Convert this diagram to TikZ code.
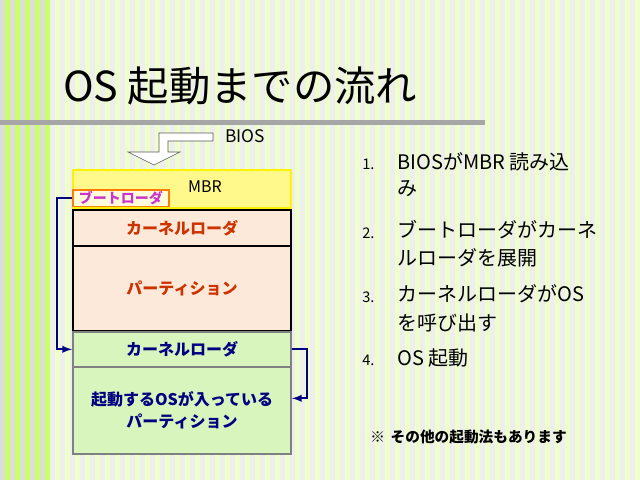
\documentclass[tikz,border=0pt]{standalone}
\usepackage{fontspec}
\setmainfont{Noto Sans CJK JP}
\definecolor{sg}{HTML}{DDDDDD}\definecolor{sgr}{HTML}{CCFF66}
\definecolor{lg}{HTML}{EEEEEE}\definecolor{lgr}{HTML}{EEFFCC}
\definecolor{peach}{HTML}{FDE9D9}\definecolor{lgreen}{HTML}{D7F5BC}
\definecolor{kred}{HTML}{CC3300}\definecolor{navy}{HTML}{000080}
\definecolor{mag}{HTML}{CC33CC}
\tikzset{blk/.style={draw,line width=1.5pt},
 lst/.style={anchor=west,font=\fontsize{15}{18}\selectfont,inner sep=0},
 num/.style={anchor=west,font=\fontsize{11}{13}\selectfont,inner sep=0},
 bx/.style={font=\bfseries\fontsize{12}{16}\selectfont}}
\begin{document}
\begin{tikzpicture}[x=0.75pt,y=-0.75pt]
\useasboundingbox (0,0) rectangle (640,480);
\foreach \i in {0,...,63}{
 \pgfmathsetmacro{\xx}{\i*10}
 \ifnum\i<5
  \fill[sg] (\xx,0) rectangle ++(5,480); \fill[sgr] (\xx+5,0) rectangle ++(5,480);
 \else
  \fill[lg] (\xx,0) rectangle ++(5,480); \fill[lgr] (\xx+5,0) rectangle ++(5,480);
 \fi}
\fill[gray!70] (0,120) rectangle (485,125);
\node[anchor=west,inner sep=0,font=\fontsize{31}{35}\selectfont] (title) at (63,86) {OS 起動までの流れ};
% BIOS arrow
\draw[fill=white,draw=gray!70!black] (213,133)--(159,133)--(159,152)--(128,152)--(154,165)--(180,152)--(168,152)--(168,141)--(213,141)--cycle;
\node[anchor=west,inner sep=0,font=\fontsize{13}{15}\selectfont] (bios) at (225,136) {BIOS};
% boxes
\node[draw=yellow,line width=1.5pt,fill=yellow!45,anchor=north west,minimum width=163.5pt,minimum height=28.5pt,inner sep=0] (mbr) at (72,169) {};
\node[inner sep=0,font=\fontsize{12}{14}\selectfont] (mbrt) at (205,187) {MBR};
\node[draw=orange,line width=1.2pt,fill=yellow!15,anchor=north west,minimum width=72pt,minimum height=12.5pt,inner sep=0,text=mag,font=\bfseries\fontsize{10.5}{12}\selectfont] (boot) at (72,189) {ブートローダ};
\node[blk,bx,fill=peach,anchor=north west,minimum width=163.5pt,minimum height=27pt,inner sep=0,text=kred] (kl1) at (72,209) {カーネルローダ};
\node[blk,bx,fill=peach,anchor=north west,minimum width=163.5pt,minimum height=64pt,inner sep=0,text=kred] (part1) at (72,245) {パーティション};
\node[draw=gray,bx,line width=1.5pt,fill=lgreen,anchor=north west,minimum width=163.5pt,minimum height=26pt,inner sep=0,text=navy] (kl2) at (72,331) {カーネルローダ};
\node[draw=gray,bx,line width=1.5pt,fill=lgreen,anchor=north west,minimum width=163.5pt,minimum height=65pt,inner sep=0,text=navy,align=center] (part2) at (72,366) {起動するOSが入っている\\パーティション};
\draw[navy,line width=1.5pt,-latex] (boot.west)--++(-15,0)|-(kl2.west);
\draw[navy,line width=1.5pt,-latex] (kl2.east)--++(15,0)|-([yshift=9pt]part2.east);
% list
\node[num] (n1) at (362,164) {1.}; \node[lst] (t1) at (397,162) {BIOSがMBR 読み込};
\node[lst] (t1b) at (397,189) {み};
\node[num] (n2) at (362,233) {2.}; \node[lst] (t2) at (397,230) {ブートローダがカーネ};
\node[lst] (t2b) at (397,258) {ルローダを展開};
\node[num] (n3) at (362,297) {3.}; \node[lst] (t3) at (397,294) {カーネルローダがOS};
\node[lst] (t3b) at (397,323) {を呼び出す};
\node[num] (n4) at (362,360) {4.}; \node[lst] (t4) at (397,358) {OS 起動};
\node[anchor=west,inner sep=0,font=\bfseries\fontsize{11}{13}\selectfont] (note) at (370,437) {※\, その他の起動法もあります};
\end{tikzpicture}
\end{document}
